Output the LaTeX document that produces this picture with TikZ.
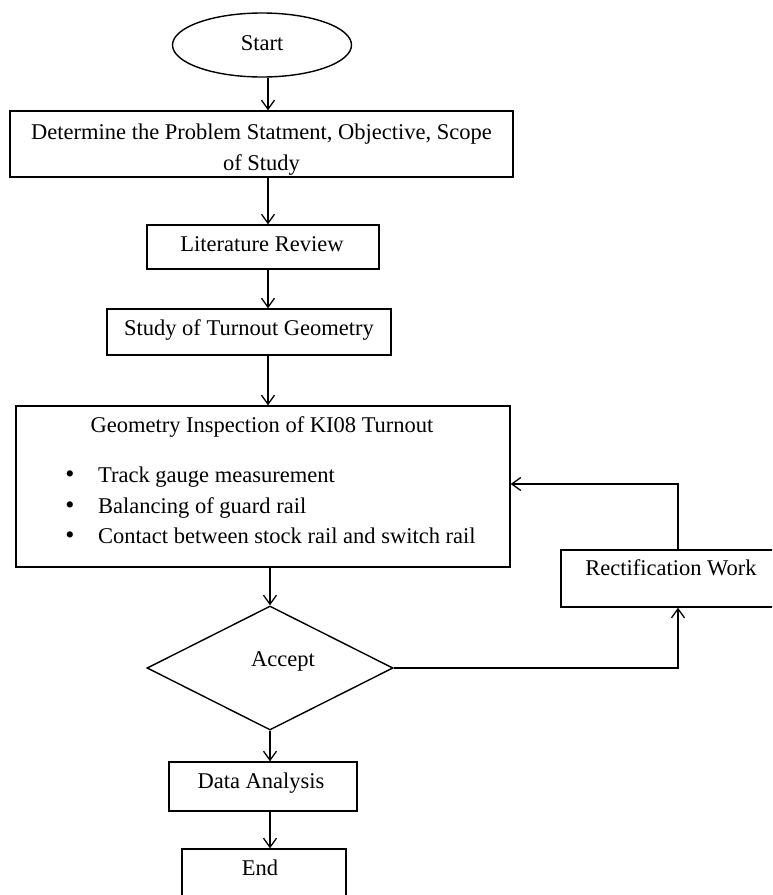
\documentclass[tikz,border=0pt]{standalone}
\usepackage{fontspec}
\setmainfont{Liberation Serif}
\usetikzlibrary{shapes.geometric,arrows.meta}
\begin{document}
\begin{tikzpicture}[x=1pt,y=-1pt,
  box/.style={draw,line width=1.4pt,rectangle,inner sep=0pt},
  txt/.style={inner sep=0pt,font=\fontsize{22.5}{31}\selectfont},
  arr/.style={line width=1.4pt,-{Straight Barb[length=9pt,width=13pt,line width=1.3pt]}},
  ln/.style={line width=1.4pt}]
\useasboundingbox (0,0) rectangle (772,895);
\clip (0,0) rectangle (772,895);
% nodes
\node[draw,line width=1.4pt,ellipse,minimum width=179pt,minimum height=64pt,inner sep=0pt] (start) at (262,45) {};
\node[txt] (starttxt) at (262,43) {Start};
\node[box,minimum width=503pt,minimum height=66pt] (prob) at (261.5,144) {};
\node[txt,align=center] (probtxt) at (261.5,150) {Determine the Problem Statment, Objective, Scope\\of Study};
\node[box,minimum width=232pt,minimum height=44pt] (lit) at (263,247) {};
\node[txt] (littxt) at (262,244) {Literature Review};
\node[box,minimum width=284pt,minimum height=46pt] (study) at (249,332) {};
\node[txt] (studytxt) at (249,330) {Study of Turnout Geometry};
\node[box,minimum width=494pt,minimum height=161pt] (geom) at (263,486.5) {};
\node[txt] (geomtitle) at (262,427) {Geometry Inspection of KI08 Turnout};
\node[txt,anchor=base west] (b1) at (98,482) {Track gauge measurement};
\node[txt,anchor=base west] (b2) at (98,513) {Balancing of guard rail};
\node[txt,anchor=base west] (b3) at (98,543) {Contact between stock rail and switch rail};
\node[txt,anchor=base,font=\fontsize{26}{31}\selectfont] (d1) at (70,482) {\textbullet};
\node[txt,anchor=base,font=\fontsize{26}{31}\selectfont] (d2) at (70,513) {\textbullet};
\node[txt,anchor=base,font=\fontsize{26}{31}\selectfont] (d3) at (70,543) {\textbullet};
\node[box,minimum width=220pt,minimum height=57pt] (rect) at (671,578.5) {};
\node[txt] (recttxt) at (671,568) {Rectification Work};
\node[draw,line width=1.4pt,diamond,minimum width=246pt,minimum height=124pt,inner sep=0pt] (dec) at (270,668) {};
\node[txt] (dectxt) at (283,661) {Accept};
\node[box,minimum width=188pt,minimum height=49pt] (data) at (263,786.5) {};
\node[txt] (datatxt) at (261,783) {Data Analysis};
\node[box,minimum width=164pt,minimum height=70pt] (end) at (264,884) {};
\node[txt] (endtxt) at (260,868) {End};
% arrow columns
\coordinate (ax) at (268,0);
\coordinate (fx) at (678,0);
\coordinate (fy) at (0,484);
\draw[arr] (start.south -| ax) -- (prob.north -| ax);
\draw[arr] (prob.south -| ax) -- (lit.north -| ax);
\draw[arr] (lit.south -| ax) -- (study.north -| ax);
\draw[arr] (study.south -| ax) -- (geom.north -| ax);
\draw[arr] (geom.south -| dec.north) -- (dec.north);
\draw[arr] (dec.south) -- (data.north -| dec.south);
\draw[arr] (data.south -| dec.south) -- (end.north -| dec.south);
\draw[arr] (dec.east) -| (rect.south -| fx);
\draw[arr] (rect.north -| fx) |- (geom.east |- fy);
\end{tikzpicture}
\end{document}
